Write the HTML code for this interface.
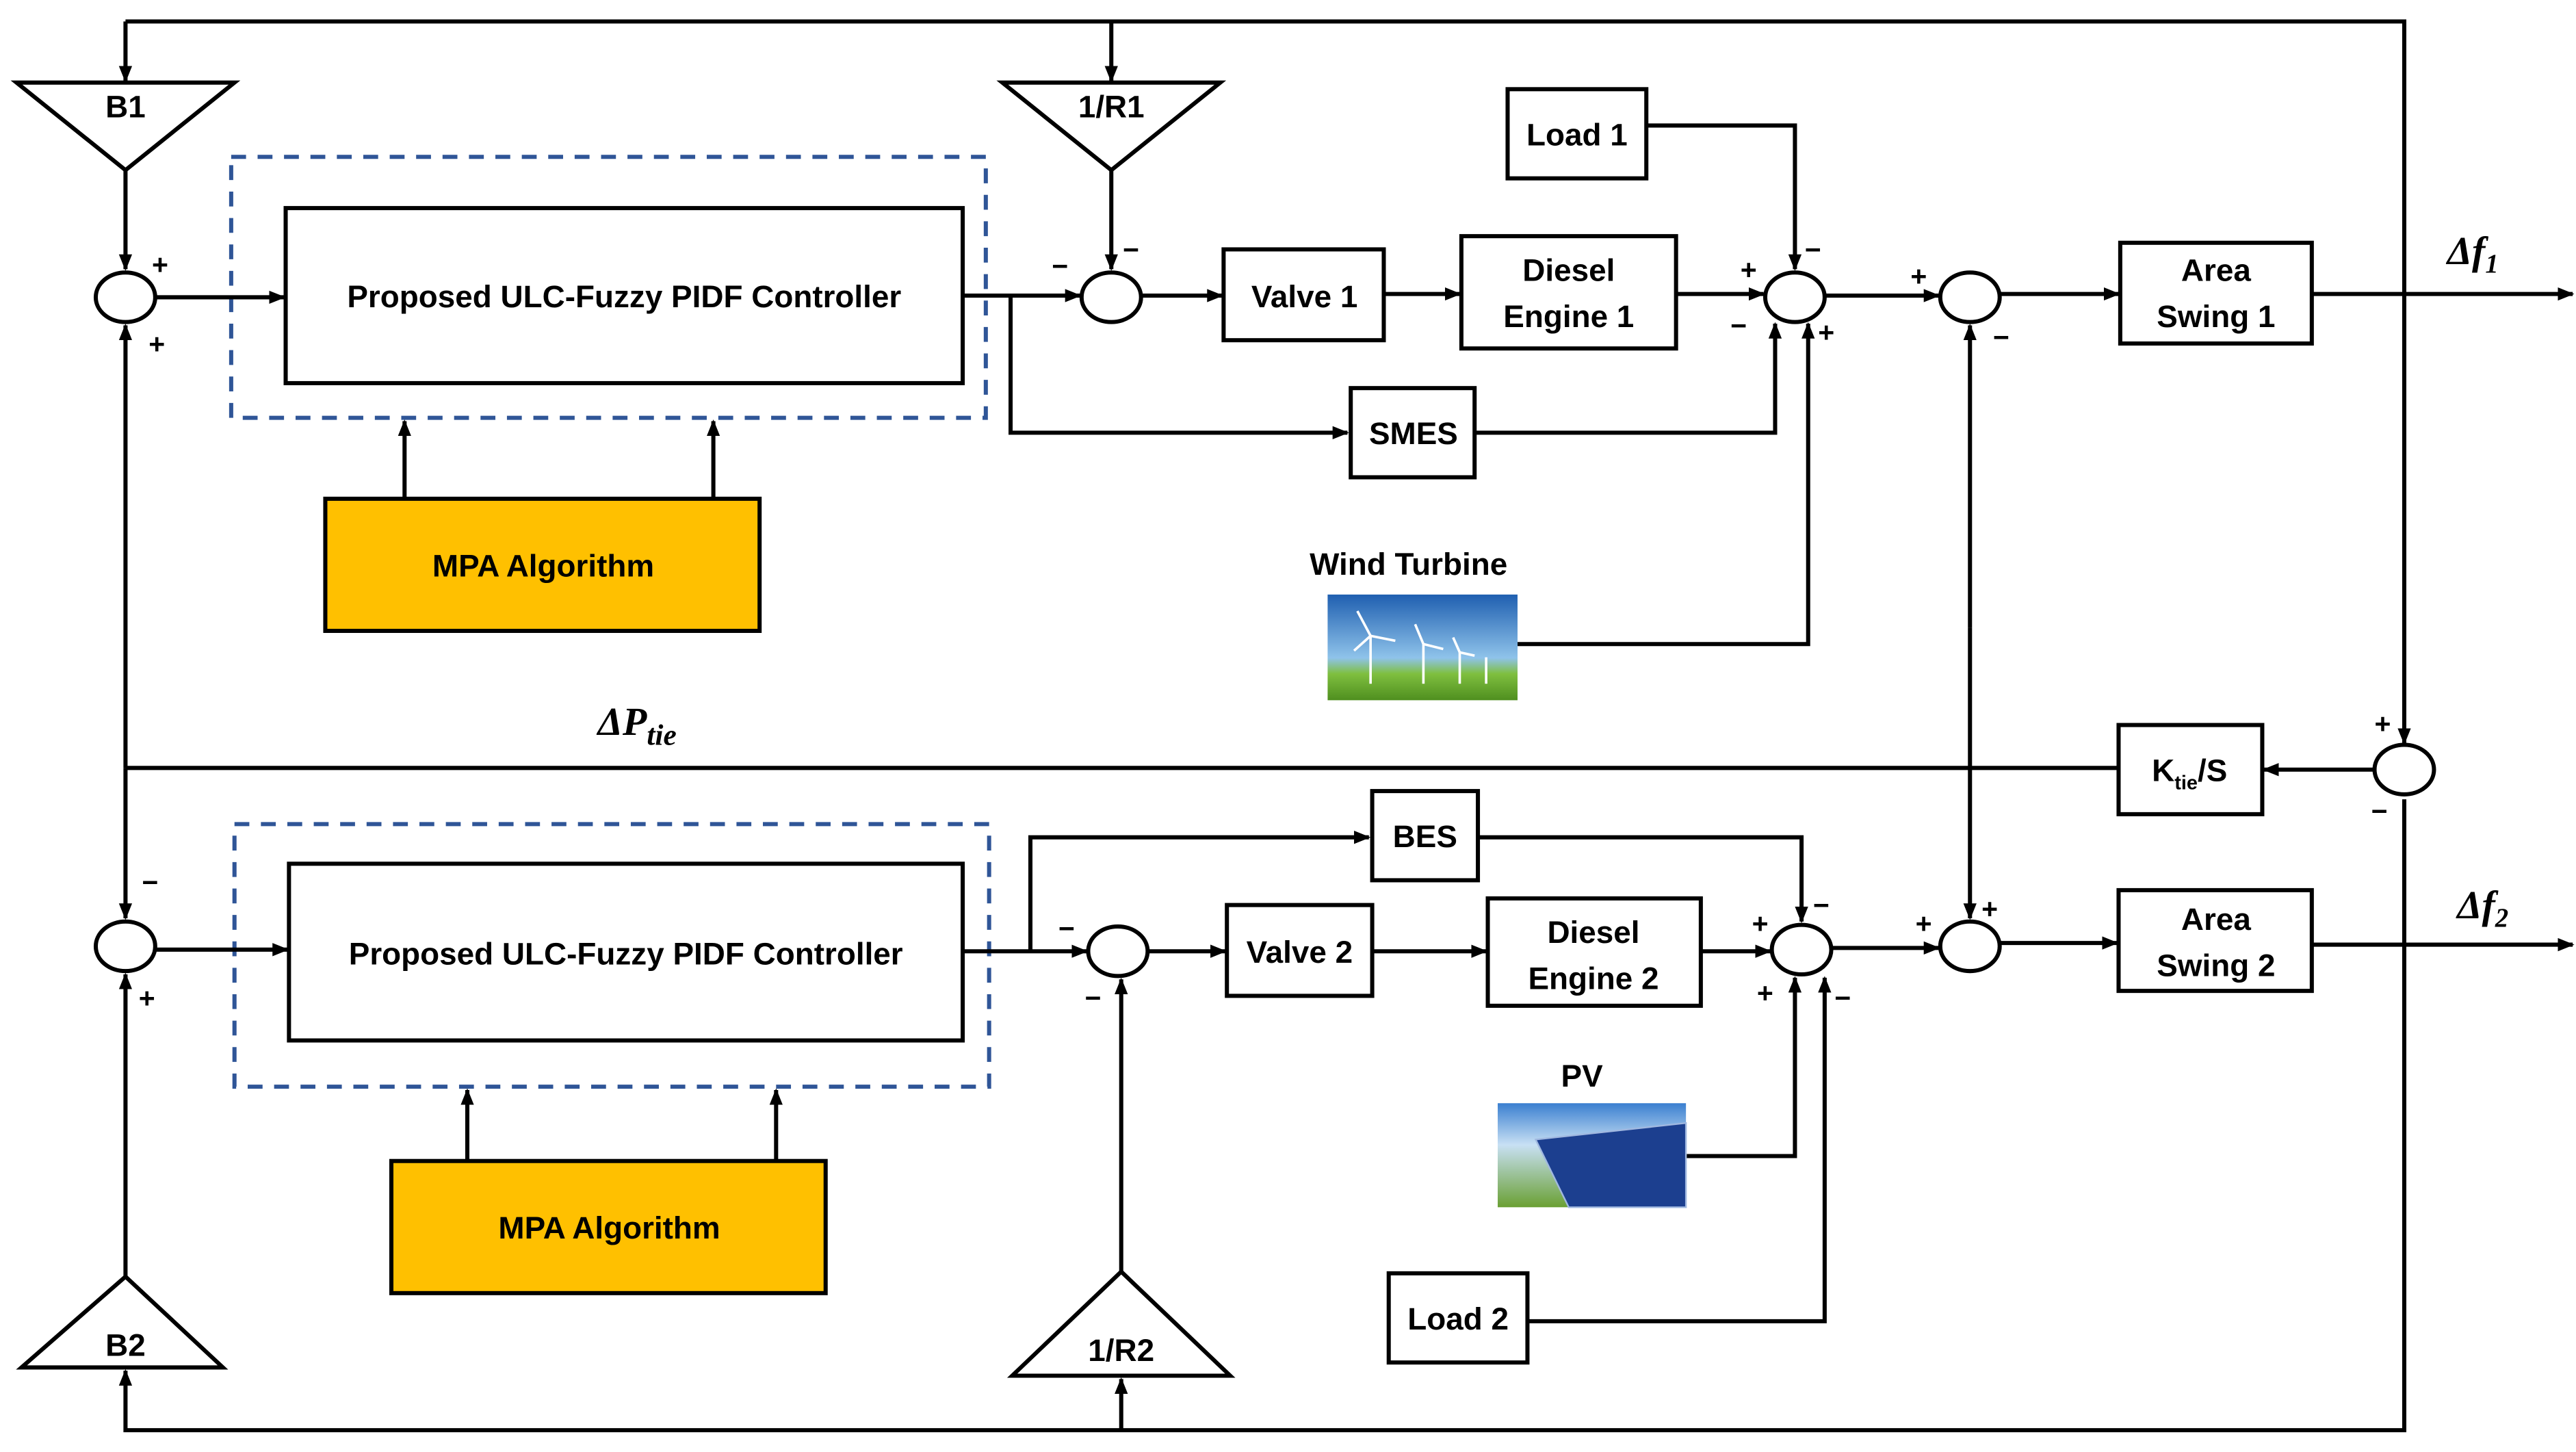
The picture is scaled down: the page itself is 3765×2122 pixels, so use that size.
<!DOCTYPE html>
<html><head><meta charset="utf-8">
<style>
html,body{margin:0;padding:0;background:#fff;}
svg{display:block;}
text{font-family:"Liberation Sans",sans-serif;font-weight:bold;fill:#000;}
</style></head>
<body>
<svg width="3765" height="2122" viewBox="0 0 1560 879.2" preserveAspectRatio="none" xmlns="http://www.w3.org/2000/svg">
<defs>
<marker id="a" markerWidth="10" markerHeight="10" refX="9" refY="5" orient="auto" markerUnits="userSpaceOnUse">
<path d="M0,1 L10,5 L0,9 Z" fill="#000"/></marker>
<linearGradient id="sky" x1="0" y1="0" x2="0" y2="1">
<stop offset="0" stop-color="#1f5fb0"/><stop offset="0.6" stop-color="#8fc3ea"/><stop offset="0.75" stop-color="#7fbf3f"/><stop offset="1" stop-color="#4f8f1f"/></linearGradient>
<linearGradient id="sky2" x1="0" y1="0" x2="0" y2="1">
<stop offset="0" stop-color="#3a7fd0"/><stop offset="0.4" stop-color="#c8e0f4"/><stop offset="1" stop-color="#6aa033"/></linearGradient>
</defs>
<g stroke="#000" stroke-width="2.5" fill="none">
<!-- top feedback -->
<polyline points="76,13 1456,13 1456,450" marker-end="url(#a)"/>
<line x1="76" y1="13" x2="76" y2="49" marker-end="url(#a)"/>
<line x1="673" y1="13" x2="673" y2="49" marker-end="url(#a)"/>
<!-- bottom feedback -->
<polyline points="1456,484 1456,866 76,866 76,830" marker-end="url(#a)"/>
<line x1="679" y1="866" x2="679" y2="835" marker-end="url(#a)"/>
<!-- triangles -->
<polygon points="10,50 142,50 76,103" fill="#fff"/>
<polygon points="607,50 739,50 673,103" fill="#fff"/>
<polygon points="13,828 135,828 76,773" fill="#fff"/>
<polygon points="613,833 745,833 679,770" fill="#fff"/>
<!-- sums -->
<ellipse cx="76" cy="180" rx="18" ry="15"/>
<ellipse cx="673" cy="180" rx="18" ry="15"/>
<ellipse cx="1087" cy="180" rx="18" ry="15"/>
<ellipse cx="1193" cy="180" rx="18" ry="15"/>
<ellipse cx="1456" cy="466" rx="18" ry="15"/>
<ellipse cx="76" cy="573" rx="18" ry="15"/>
<ellipse cx="677" cy="576" rx="18" ry="15"/>
<ellipse cx="1091" cy="575" rx="18" ry="15"/>
<ellipse cx="1193" cy="573" rx="18" ry="15"/>
<!-- B1 to sum -->
<line x1="76" y1="103" x2="76" y2="163" marker-end="url(#a)"/>
<line x1="673" y1="103" x2="673" y2="163" marker-end="url(#a)"/>
<!-- dashed boxes -->
<rect x="140" y="95" width="457" height="158" stroke="#2f5597" stroke-dasharray="9,7"/>
<rect x="142" y="499" width="457" height="159" stroke="#2f5597" stroke-dasharray="9,7"/>
<rect x="173" y="126" width="410" height="106"/>
<rect x="175" y="523" width="408" height="107"/>
<rect x="197" y="302" width="263" height="80" fill="#ffc000"/>
<rect x="237" y="703" width="263" height="80" fill="#ffc000"/>
<line x1="245" y1="302" x2="245" y2="255" marker-end="url(#a)"/>
<line x1="432" y1="302" x2="432" y2="255" marker-end="url(#a)"/>
<line x1="283" y1="703" x2="283" y2="660" marker-end="url(#a)"/>
<line x1="470" y1="703" x2="470" y2="660" marker-end="url(#a)"/>
<!-- area 1 flow -->
<line x1="94" y1="180" x2="172" y2="180" marker-end="url(#a)"/>
<line x1="583" y1="179" x2="654" y2="179" marker-end="url(#a)"/>
<polyline points="612,179 612,262 816,262" marker-end="url(#a)"/>
<line x1="691" y1="179" x2="740" y2="179" marker-end="url(#a)"/>
<line x1="838" y1="178" x2="884" y2="178" marker-end="url(#a)"/>
<line x1="1015" y1="178" x2="1068" y2="178" marker-end="url(#a)"/>
<polyline points="997,76 1087,76 1087,163" marker-end="url(#a)"/>
<polyline points="893,262 1075,262 1075,196" marker-end="url(#a)"/>
<polyline points="919,390 1095,390 1095,196" marker-end="url(#a)"/>
<line x1="1105" y1="179" x2="1174" y2="179" marker-end="url(#a)"/>
<line x1="1211" y1="178" x2="1283" y2="178" marker-end="url(#a)"/>
<line x1="1400" y1="178" x2="1558" y2="178" marker-end="url(#a)"/>
<rect x="741" y="151" width="97" height="55" fill="#fff"/>
<rect x="885" y="143" width="130" height="68" fill="#fff"/>
<rect x="913" y="54" width="84" height="54" fill="#fff"/>
<rect x="818" y="235" width="75" height="54" fill="#fff"/>
<rect x="1284" y="147" width="116" height="61" fill="#fff"/>
<!-- vertical link between area swings -->
<line x1="1193" y1="380" x2="1193" y2="197" marker-end="url(#a)"/>
<line x1="1193" y1="380" x2="1193" y2="556" marker-end="url(#a)"/>
<!-- tie line -->
<line x1="1283" y1="465" x2="76" y2="465"/>
<line x1="1438" y1="466" x2="1371" y2="466" marker-end="url(#a)"/>
<rect x="1283" y="439" width="87" height="54" fill="#fff"/>
<line x1="76" y1="465" x2="76" y2="197" marker-end="url(#a)"/>
<line x1="76" y1="465" x2="76" y2="556" marker-end="url(#a)"/>
<line x1="76" y1="773" x2="76" y2="590" marker-end="url(#a)"/>
<!-- area 2 flow -->
<line x1="94" y1="575" x2="174" y2="575" marker-end="url(#a)"/>
<line x1="583" y1="576" x2="658" y2="576" marker-end="url(#a)"/>
<polyline points="624,576 624,507 829,507" marker-end="url(#a)"/>
<line x1="695" y1="576" x2="742" y2="576" marker-end="url(#a)"/>
<line x1="831" y1="576" x2="900" y2="576" marker-end="url(#a)"/>
<line x1="1030" y1="576" x2="1072" y2="576" marker-end="url(#a)"/>
<polyline points="895,507 1091,507 1091,558" marker-end="url(#a)"/>
<polyline points="1021,700 1087,700 1087,592" marker-end="url(#a)"/>
<polyline points="925,800 1105,800 1105,592" marker-end="url(#a)"/>
<line x1="1109" y1="574" x2="1174" y2="574" marker-end="url(#a)"/>
<line x1="1211" y1="571" x2="1282" y2="571" marker-end="url(#a)"/>
<line x1="1400" y1="572" x2="1558" y2="572" marker-end="url(#a)"/>
<line x1="679" y1="770" x2="679" y2="593" marker-end="url(#a)"/>
<rect x="831" y="479" width="64" height="54" fill="#fff"/>
<rect x="743" y="548" width="88" height="55" fill="#fff"/>
<rect x="901" y="544" width="129" height="65" fill="#fff"/>
<rect x="841" y="771" width="84" height="54" fill="#fff"/>
<rect x="1283" y="539" width="117" height="61" fill="#fff"/>
</g>
<!-- images -->
<rect x="804" y="360" width="115" height="64" fill="url(#sky)"/>
<g stroke="#fff" stroke-width="1.5">
<line x1="830" y1="385" x2="830" y2="414"/><line x1="830" y1="385" x2="822" y2="370"/><line x1="830" y1="385" x2="845" y2="388"/><line x1="830" y1="385" x2="820" y2="394"/>
<line x1="862" y1="390" x2="862" y2="414"/><line x1="862" y1="390" x2="857" y2="378"/><line x1="862" y1="390" x2="874" y2="393"/>
<line x1="884" y1="395" x2="884" y2="414"/><line x1="884" y1="395" x2="880" y2="386"/><line x1="884" y1="395" x2="893" y2="397"/>
<line x1="900" y1="398" x2="900" y2="414"/>
</g>
<rect x="907" y="668" width="114" height="63" fill="url(#sky2)"/>
<polygon points="930,690 1021,680 1021,731 950,731" fill="#1c3f8f" stroke="#a0b8e0" stroke-width="1"/>
<!-- signs and text -->
<g font-size="17">
<text x="92" y="166">+</text><text x="90" y="214">+</text>
<text x="637" y="167">−</text><text x="680" y="157">−</text>
<text x="1054" y="169">+</text><text x="1093" y="157">−</text><text x="1048" y="203">−</text><text x="1101" y="207">+</text>
<text x="1157" y="173">+</text><text x="1207" y="210">−</text>
<text x="1438" y="444">+</text><text x="1436" y="497">−</text>
<text x="86" y="540">−</text><text x="84" y="610">+</text>
<text x="641" y="568">−</text><text x="657" y="610">−</text>
<text x="1061" y="565">+</text><text x="1098" y="554">−</text><text x="1064" y="607">+</text><text x="1111" y="610">−</text>
<text x="1160" y="565">+</text><text x="1200" y="556">+</text>
</g>
<g font-size="19" text-anchor="middle">
<text x="76" y="71">B1</text>
<text x="673" y="71">1/R1</text>
<text x="76" y="821">B2</text>
<text x="679" y="824">1/R2</text>
<text x="378" y="186">Proposed  ULC-Fuzzy PIDF Controller</text>
<text x="379" y="584">Proposed  ULC-Fuzzy PIDF Controller</text>
<text x="329" y="349">MPA Algorithm</text>
<text x="369" y="750">MPA Algorithm</text>
<text x="790" y="186">Valve 1</text>
<text x="950" y="170">Diesel</text><text x="950" y="198">Engine 1</text>
<text x="955" y="88">Load 1</text>
<text x="856" y="269">SMES</text>
<text x="853" y="348">Wind Turbine</text>
<text x="1342" y="170">Area</text><text x="1342" y="198">Swing 1</text>
<text x="863" y="513">BES</text>
<text x="787" y="583">Valve 2</text>
<text x="965" y="571">Diesel</text><text x="965" y="599">Engine 2</text>
<text x="958" y="658">PV</text>
<text x="883" y="805">Load 2</text>
<text x="1342" y="563">Area</text><text x="1342" y="591">Swing 2</text>
<text x="1326" y="473">K<tspan font-size="12" dy="5">tie</tspan><tspan dy="-5">/S</tspan></text>
</g>
<g font-family="Liberation Serif" font-style="italic" font-size="24">
<text x="362" y="445" style="font-family:'Liberation Serif',serif">ΔP<tspan font-size="18" dy="6">tie</tspan></text>
<text x="1482" y="160" style="font-family:'Liberation Serif',serif">Δf<tspan font-size="16" dy="5">1</tspan></text>
<text x="1488" y="556" style="font-family:'Liberation Serif',serif">Δf<tspan font-size="16" dy="5">2</tspan></text>
</g>
</svg>
</body></html>
